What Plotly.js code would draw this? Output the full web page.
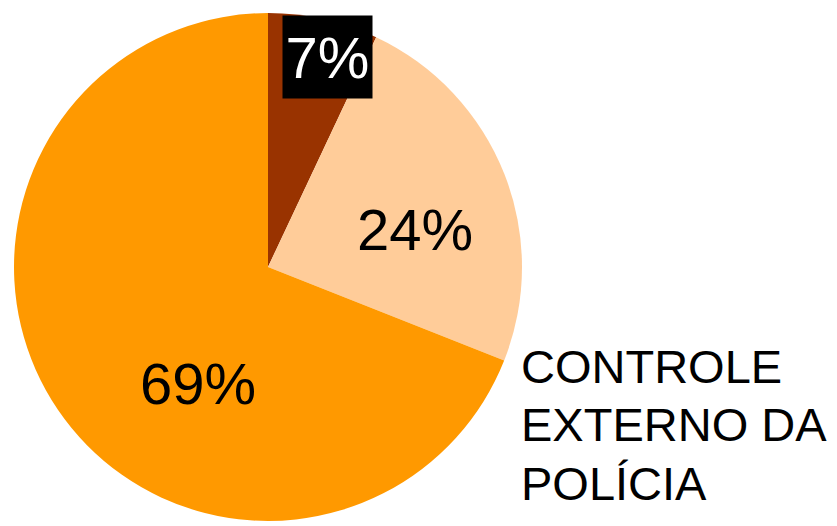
<!DOCTYPE html>
<html>
<head>
<meta charset="utf-8">
<script src="https://cdn.plot.ly/plotly-3.0.1.min.js"></script>
<style>html,body{margin:0;padding:0;background:#fff;}#chart{width:837px;height:526px;}</style>
</head>
<body>
<div id="chart"></div>
<script>
const categories = ["A", "B", "C"];
const values = [7, 24, 69];
const colors = ["#993300", "#FFCC99", "#FF9900"];
const percentLabels = ["7%", "24%", "69%"];
const titleLines = ["CONTROLE", "EXTERNO DA", "POLÍCIA"];

const W = 837, H = 526;
const font = "Liberation Sans, Arial, Helvetica, sans-serif";

const trace = {
  type: "pie",
  labels: categories,
  values: values,
  marker: { colors: colors, line: { width: 0 } },
  sort: false,
  direction: "clockwise",
  rotation: 0,
  textinfo: "none",
  hoverinfo: "none",
  domain: { x: [14 / W, 522 / W], y: [5 / H, 513 / H] }
};

const labelPos = [[327, 57], [415, 229], [198, 383]];
const annotations = [];
percentLabels.forEach((t, i) => {
  const a = {
    text: t, xref: "paper", yref: "paper",
    x: labelPos[i][0] / W, y: 1 - labelPos[i][1] / H,
    xanchor: "center", yanchor: "middle", showarrow: false,
    font: { family: font, size: 58, color: i === 0 ? "#ffffff" : "#000000" },
    bgcolor: i === 0 ? "#000000" : "rgba(0,0,0,0)",
    borderpad: 0
  };
  if (i === 0) { a.width = 89; a.height = 82; }
  annotations.push(a);
});
const lineY = [366, 424, 483];
titleLines.forEach((t, i) => {
  annotations.push({
    text: t, xref: "paper", yref: "paper",
    x: 519 / W, y: 1 - lineY[i] / H,
    xanchor: "left", yanchor: "middle", showarrow: false,
    font: { family: font, size: 47, color: "#000000" }
  });
});

Plotly.newPlot("chart", [trace], {
  width: W, height: H,
  margin: { l: 0, r: 0, t: 0, b: 0 },
  paper_bgcolor: "#ffffff",
  showlegend: false,
  annotations: annotations
}, { displayModeBar: false, staticPlot: true });
</script>
</body>
</html>
